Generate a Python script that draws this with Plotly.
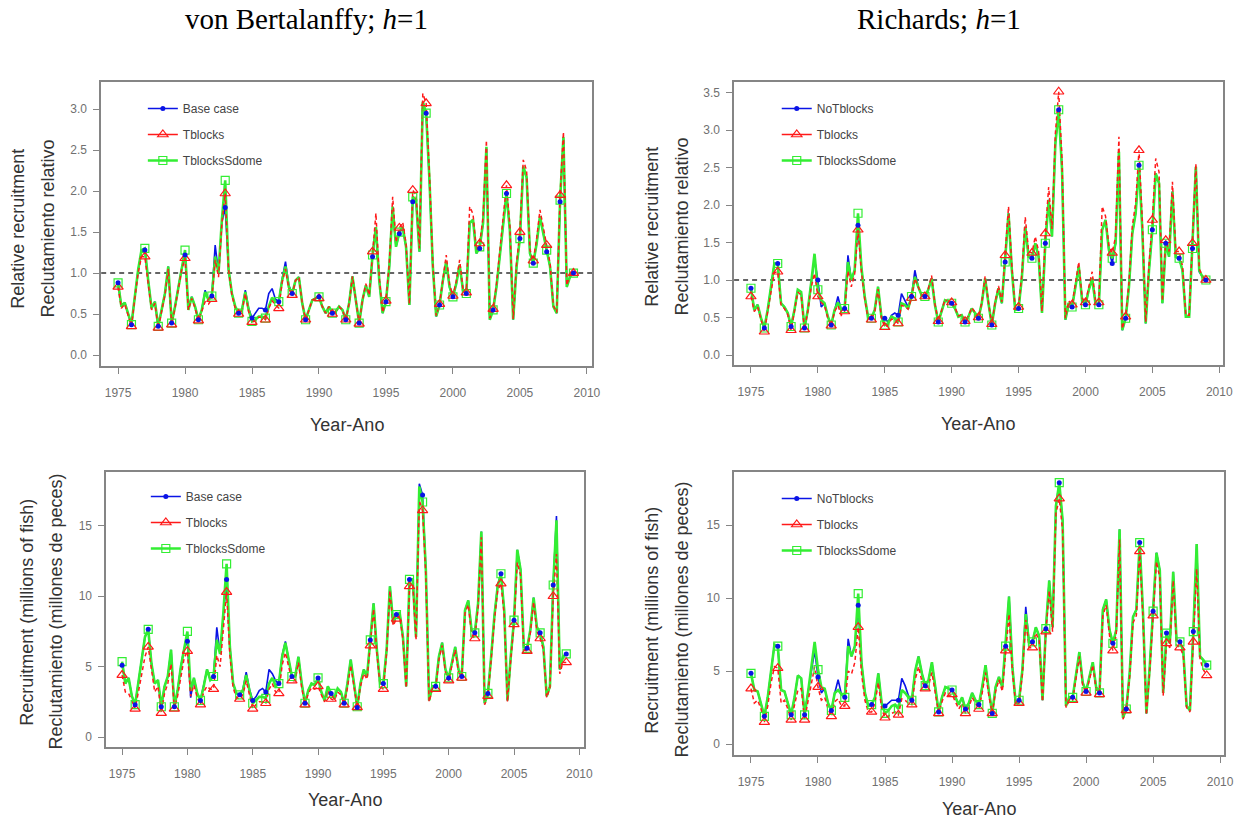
import numpy as np
import plotly.graph_objects as go

# Quarterly time axis, 1975.00 to 2009.00
years = np.round(np.arange(1975.0, 2009.01, 0.25), 2)

# ---------- von Bertalanffy, relative recruitment ----------
vb_rel_base = [
    0.88, 0.59, 0.64, 0.51,  0.37, 0.71, 1.04, 1.26,  1.28, 0.91, 0.57, 0.65,
    0.35, 0.55, 0.75, 1.08,  0.39, 0.59, 0.83, 1.06,  1.22, 0.57, 0.71, 0.59,
    0.43, 0.55, 0.79, 0.67,  0.72, 1.34, 1.00, 1.62,  1.80, 1.04, 0.75, 0.59,
    0.51, 0.55, 0.79, 0.57,  0.45, 0.51, 0.57, 0.57,  0.55, 0.75, 0.81, 0.68,
    0.65, 0.93, 1.14, 0.85,  0.75, 0.91, 0.95, 0.63,  0.43, 0.55, 0.67, 0.69,
    0.71, 0.59, 0.51, 0.59,  0.51, 0.53, 0.59, 0.55,  0.43, 0.63, 0.96, 0.67,
    0.39, 0.67, 0.85, 0.71,  1.20, 1.56, 0.91, 0.51,  0.65, 1.08, 1.79, 1.32,
    1.48, 1.56, 1.32, 0.61,  1.87, 1.87, 1.26, 3.07,  2.95, 2.11, 1.08, 0.47,
    0.61, 0.91, 1.14, 0.83,  0.71, 0.87, 1.10, 0.79,  0.75, 1.61, 1.65, 1.24,
    1.30, 1.61, 2.52, 0.43,  0.55, 0.83, 1.24, 1.61,  1.97, 1.52, 0.43, 1.08,
    1.42, 2.28, 2.17, 1.24,  1.12, 1.36, 1.69, 1.48,  1.26, 1.08, 0.59, 0.51,
    1.87, 2.64, 0.83, 0.96,  1.00,
]
vb_rel_tblocks = [
    0.83, 0.57, 0.62, 0.49,  0.35, 0.69, 1.00, 1.20,  1.20, 0.87, 0.55, 0.63,
    0.33, 0.53, 0.73, 1.05,  0.37, 0.57, 0.80, 1.04,  1.18, 0.55, 0.69, 0.57,
    0.42, 0.53, 0.65, 0.62,  0.68, 1.16, 0.95, 1.60,  1.97, 1.04, 0.73, 0.57,
    0.50, 0.53, 0.75, 0.53,  0.40, 0.42, 0.46, 0.46,  0.43, 0.57, 0.66, 0.62,
    0.57, 0.89, 1.05, 0.81,  0.73, 0.91, 0.95, 0.63,  0.43, 0.55, 0.67, 0.69,
    0.69, 0.59, 0.51, 0.59,  0.50, 0.53, 0.59, 0.55,  0.43, 0.63, 0.96, 0.67,
    0.38, 0.67, 0.87, 0.73,  1.26, 1.73, 0.95, 0.52,  0.66, 1.12, 1.93, 1.38,
    1.55, 1.62, 1.36, 0.62,  2.01, 1.95, 1.30, 3.19,  3.07, 2.20, 1.10, 0.48,
    0.62, 0.95, 1.22, 0.86,  0.72, 0.90, 1.16, 0.81,  0.76, 1.81, 1.72, 1.28,
    1.36, 1.68, 2.62, 0.45,  0.56, 0.86, 1.30, 1.68,  2.07, 1.58, 0.44, 1.12,
    1.50, 2.38, 2.25, 1.28,  1.15, 1.42, 1.77, 1.54,  1.34, 1.12, 0.60, 0.52,
    1.95, 2.72, 0.85, 0.98,  1.00,
]
vb_rel_sdome = [
    0.88, 0.59, 0.64, 0.51,  0.37, 0.71, 1.04, 1.28,  1.30, 0.91, 0.57, 0.65,
    0.35, 0.55, 0.75, 1.08,  0.39, 0.59, 0.83, 1.08,  1.28, 0.55, 0.71, 0.59,
    0.43, 0.55, 0.77, 0.67,  0.72, 1.20, 1.00, 1.65,  2.13, 1.04, 0.75, 0.59,
    0.51, 0.55, 0.77, 0.55,  0.41, 0.43, 0.47, 0.47,  0.45, 0.59, 0.70, 0.65,
    0.65, 0.91, 1.08, 0.83,  0.75, 0.91, 0.95, 0.63,  0.43, 0.55, 0.67, 0.69,
    0.71, 0.59, 0.51, 0.59,  0.51, 0.53, 0.59, 0.55,  0.43, 0.63, 0.96, 0.67,
    0.39, 0.67, 0.85, 0.71,  1.22, 1.56, 0.91, 0.51,  0.65, 1.08, 1.81, 1.32,
    1.50, 1.56, 1.32, 0.61,  1.93, 1.89, 1.26, 3.09,  2.95, 2.13, 1.08, 0.47,
    0.61, 0.91, 1.14, 0.83,  0.71, 0.87, 1.10, 0.79,  0.75, 1.61, 1.65, 1.24,
    1.32, 1.61, 2.54, 0.43,  0.55, 0.83, 1.24, 1.61,  1.97, 1.52, 0.43, 1.08,
    1.42, 2.30, 2.17, 1.24,  1.12, 1.36, 1.69, 1.48,  1.28, 1.08, 0.59, 0.51,
    1.89, 2.66, 0.83, 0.96,  1.00,
]

# ---------- Richards, relative recruitment ----------
rich_rel_base = [
    0.89, 0.60, 0.67, 0.49,  0.36, 0.60, 0.91, 1.22,  1.22, 0.69, 0.64, 0.56,
    0.38, 0.60, 0.87, 0.84,  0.36, 0.60, 0.96, 1.28,  1.00, 0.64, 0.69, 0.51,
    0.40, 0.60, 0.78, 0.60,  0.62, 1.33, 1.00, 1.13,  1.73, 1.18, 0.78, 0.51,
    0.49, 0.60, 0.91, 0.51,  0.49, 0.44, 0.53, 0.56,  0.53, 0.82, 0.73, 0.64,
    0.78, 1.13, 0.91, 0.80,  0.78, 0.87, 1.02, 0.67,  0.44, 0.60, 0.73, 0.71,
    0.69, 0.62, 0.51, 0.53,  0.44, 0.51, 0.62, 0.56,  0.49, 0.69, 1.02, 0.69,
    0.40, 0.69, 0.89, 0.69,  1.24, 1.89, 1.13, 0.60,  0.62, 1.04, 1.71, 1.31,
    1.29, 1.49, 1.31, 0.56,  1.49, 2.07, 1.58, 2.82,  3.27, 2.47, 0.47, 0.69,
    0.64, 0.91, 1.18, 0.73,  0.67, 0.87, 1.02, 0.69,  0.67, 1.67, 1.80, 1.40,
    1.22, 1.49, 2.71, 0.33,  0.49, 0.91, 1.62, 1.89,  2.53, 1.67, 0.42, 1.13,
    1.67, 2.42, 2.29, 0.69,  1.49, 1.31, 2.18, 1.31,  1.29, 1.13, 0.51, 0.51,
    1.42, 2.51, 1.11, 1.04,  1.00,
]
rich_rel_tblocks = [
    0.78, 0.58, 0.64, 0.47,  0.31, 0.58, 0.87, 1.10,  1.11, 0.66, 0.62, 0.54,
    0.33, 0.58, 0.84, 0.80,  0.34, 0.58, 0.90, 1.09,  0.78, 0.70, 0.66, 0.49,
    0.39, 0.58, 0.66, 0.53,  0.58, 1.12, 0.91, 1.08,  1.67, 1.12, 0.75, 0.49,
    0.47, 0.58, 0.88, 0.50,  0.37, 0.40, 0.48, 0.47,  0.42, 0.66, 0.65, 0.61,
    0.76, 1.02, 0.90, 0.80,  0.78, 0.88, 1.06, 0.68,  0.45, 0.61, 0.74, 0.72,
    0.70, 0.63, 0.52, 0.54,  0.45, 0.52, 0.63, 0.57,  0.50, 0.70, 1.05, 0.70,
    0.41, 0.71, 0.92, 0.71,  1.33, 1.98, 1.18, 0.62,  0.64, 1.09, 1.84, 1.38,
    1.36, 1.58, 1.38, 0.58,  1.62, 2.24, 1.68, 2.95,  3.51, 2.60, 0.49, 0.72,
    0.67, 0.96, 1.24, 0.76,  0.70, 0.91, 1.11, 0.72,  0.70, 1.98, 1.85, 1.46,
    1.36, 1.58, 2.91, 0.35,  0.51, 0.96, 1.72, 2.02,  2.73, 1.78, 0.44, 1.20,
    1.80, 2.62, 2.44, 0.72,  1.53, 1.38, 2.31, 1.38,  1.38, 1.19, 0.53, 0.53,
    1.49, 2.55, 1.15, 1.05,  1.00,
]
rich_rel_sdome = [
    0.89, 0.60, 0.67, 0.49,  0.36, 0.60, 0.91, 1.22,  1.22, 0.69, 0.64, 0.56,
    0.38, 0.60, 0.87, 0.84,  0.36, 0.60, 0.96, 1.35,  0.87, 0.73, 0.69, 0.51,
    0.40, 0.60, 0.70, 0.60,  0.62, 1.24, 1.00, 1.13,  1.89, 1.18, 0.78, 0.51,
    0.49, 0.60, 0.91, 0.51,  0.40, 0.42, 0.51, 0.49,  0.44, 0.69, 0.67, 0.62,
    0.78, 1.04, 0.91, 0.80,  0.78, 0.87, 1.02, 0.67,  0.44, 0.60, 0.73, 0.71,
    0.69, 0.62, 0.51, 0.53,  0.44, 0.51, 0.62, 0.56,  0.49, 0.69, 1.02, 0.69,
    0.40, 0.69, 0.89, 0.69,  1.24, 1.89, 1.13, 0.60,  0.62, 1.04, 1.71, 1.31,
    1.29, 1.49, 1.31, 0.56,  1.49, 2.07, 1.58, 2.82,  3.27, 2.47, 0.47, 0.69,
    0.64, 0.91, 1.18, 0.73,  0.67, 0.87, 1.02, 0.69,  0.67, 1.67, 1.80, 1.40,
    1.29, 1.49, 2.71, 0.33,  0.49, 0.91, 1.62, 1.89,  2.53, 1.67, 0.42, 1.13,
    1.67, 2.42, 2.29, 0.69,  1.49, 1.31, 2.18, 1.31,  1.29, 1.13, 0.51, 0.51,
    1.42, 2.51, 1.13, 1.04,  1.00,
]

# ---------- von Bertalanffy, recruitment (millions of fish) ----------
vb_abs_base = [
    5.1, 3.8, 4.2, 2.9,   2.3, 3.8, 5.5, 7.1,   7.65, 5.2, 3.8, 4.05,
    2.15, 3.6, 4.3, 6.2,  2.15, 3.3, 5.0, 6.3,  6.8, 2.8, 4.2, 3.1,
    2.6, 3.6, 4.8, 4.05,  4.3, 7.8, 5.9, 8.6,   11.2, 6.4, 3.8, 3.1,
    3.0, 3.4, 4.6, 3.4,   2.6, 2.85, 3.3, 3.45, 3.2, 4.8, 4.5, 4.0,
    3.8, 5.8, 6.8, 5.5,   4.3, 4.3, 5.7, 3.8,   2.4, 3.3, 3.8, 3.7,
    4.2, 3.2, 2.6, 3.6,   3.1, 2.75, 3.45, 3.2, 2.4, 3.8, 5.5, 3.8,
    2.1, 3.8, 4.8, 4.3,   6.9, 9.5, 6.2, 3.8,   3.8, 6.2, 10.7, 8.1,
    8.7, 8.8, 7.1, 3.6,   11.2, 11.2, 7.1, 18.0, 17.2, 11.9, 2.6, 3.6,
    3.6, 5.7, 6.7, 4.8,   4.2, 5.2, 6.4, 4.8,   4.3, 9.0, 9.7, 7.6,
    7.4, 9.5, 14.6, 2.4,  3.1, 5.7, 8.6, 10.8,  11.6, 9.0, 2.6, 5.7,
    8.3, 13.3, 11.9, 6.4, 6.3, 7.6, 9.9, 7.8,   7.4, 6.4, 2.9, 3.6,
    10.8, 15.7, 4.8, 5.7, 5.9,
]
vb_abs_tblocks = [
    4.4, 3.2, 3.1, 2.6,   2.0, 3.2, 4.4, 5.7,   6.4, 4.7, 3.2, 3.6,
    1.7, 3.1, 3.8, 5.2,   2.0, 2.9, 4.3, 5.6,   6.1, 2.9, 3.7, 2.8,
    2.3, 3.2, 3.6, 3.4,   3.4, 5.8, 5.0, 7.6,   10.3, 5.8, 3.5, 2.8,
    2.7, 3.0, 4.0, 3.0,   2.0, 2.3, 2.5, 2.5,   2.4, 3.4, 3.8, 3.2,
    3.1, 5.1, 6.0, 5.0,   4.0, 4.0, 5.3, 3.5,   2.3, 3.1, 3.5, 3.4,
    3.6, 3.0, 2.5, 3.3,   2.7, 2.6, 3.2, 3.0,   2.3, 3.5, 5.1, 3.6,
    2.1, 3.6, 4.5, 4.1,   6.5, 9.1, 6.0, 3.6,   3.4, 6.0, 10.4, 7.9,
    8.4, 8.6, 6.9, 3.5,   10.7, 10.9, 6.9, 16.8, 16.1, 11.5, 2.5, 3.4,
    3.4, 5.5, 6.5, 4.6,   4.0, 5.0, 6.2, 4.6,   4.2, 8.8, 9.4, 7.3,
    7.0, 9.2, 14.2, 2.3,  2.9, 5.5, 8.3, 10.4,  10.9, 8.7, 2.5, 5.5,
    8.0, 12.4, 11.5, 6.2, 6.1, 7.4, 9.6, 7.5,   7.0, 6.2, 2.8, 3.5,
    10.0, 13.0, 4.5, 5.3, 5.3,
]
vb_abs_sdome = [
    5.36, 3.8, 4.2, 2.9,  2.3, 3.8, 5.5, 7.1,   7.65, 5.2, 3.8, 4.05,
    2.15, 3.6, 4.3, 6.2,  2.15, 3.3, 5.0, 6.4,  7.5, 3.3, 4.2, 3.1,
    2.6, 3.6, 4.8, 4.05,  4.3, 6.9, 5.9, 8.8,   12.3, 6.4, 3.8, 3.1,
    3.0, 3.3, 4.4, 3.3,   2.4, 2.6, 2.85, 2.85, 2.75, 3.8, 4.2, 3.6,
    3.8, 5.7, 6.7, 5.5,   4.3, 4.3, 5.7, 3.8,   2.4, 3.3, 3.8, 3.7,
    4.2, 3.2, 2.6, 3.6,   3.1, 2.75, 3.45, 3.2, 2.4, 3.8, 5.5, 3.8,
    2.15, 3.8, 4.8, 4.3,  6.9, 9.5, 6.2, 3.8,   3.8, 6.2, 10.7, 8.1,
    8.7, 8.8, 7.1, 3.6,   11.2, 11.2, 7.1, 17.8, 16.7, 11.9, 2.6, 3.6,
    3.6, 5.7, 6.7, 4.8,   4.2, 5.2, 6.4, 4.8,   4.3, 9.0, 9.7, 7.6,
    7.4, 9.5, 14.6, 2.4,  3.1, 5.7, 8.6, 10.7,  11.6, 9.0, 2.6, 5.7,
    8.3, 13.3, 11.9, 6.4, 6.3, 7.6, 9.9, 7.8,   7.4, 6.4, 2.9, 3.6,
    10.8, 15.4, 4.8, 5.7, 5.9,
]

# ---------- Richards, recruitment (millions of fish) ----------
rich_abs_base = [
    4.84, 3.7, 3.6, 2.8,  1.9, 3.2, 5.1, 6.8,   6.7, 3.7, 3.6, 2.8,
    2.0, 3.2, 4.7, 4.5,   2.0, 3.5, 5.1, 6.4,   4.6, 3.5, 3.8, 2.8,
    2.3, 3.5, 4.4, 3.4,   3.2, 7.2, 6.0, 6.7,   9.5, 5.5, 3.5, 2.6,
    2.7, 3.2, 4.84, 2.8,  2.6, 2.8, 3.0, 3.0,   3.0, 4.5, 4.0, 3.3,
    3.0, 5.0, 6.0, 4.84,  4.0, 4.4, 5.6, 3.9,   2.2, 3.2, 3.9, 3.8,
    3.7, 3.2, 2.7, 3.2,   2.4, 2.8, 3.5, 3.0,   2.7, 3.9, 5.4, 3.6,
    2.1, 3.9, 4.6, 3.9,   6.7, 10.1, 5.3, 2.8,  3.0, 5.1, 9.4, 6.9,
    7.0, 8.0, 7.4, 3.0,   7.9, 11.2, 8.0, 16.3, 17.9, 15.3, 2.6, 3.2,
    3.2, 4.6, 6.3, 4.2,   3.6, 4.6, 5.6, 3.9,   3.5, 9.2, 9.9, 7.8,
    6.9, 7.8, 14.7, 1.8,  2.4, 4.84, 8.7, 9.2,  13.8, 8.9, 2.1, 5.3,
    9.1, 13.1, 11.9, 3.5, 7.6, 6.9, 11.8, 7.1,  7.0, 6.4, 2.6, 2.3,
    7.7, 13.7, 6.0, 5.75, 5.4,
]
rich_abs_tblocks = [
    3.8, 2.8, 3.0, 2.4,   1.5, 2.6, 4.2, 5.3,   5.2, 2.8, 3.0, 2.4,
    1.65, 2.6, 3.7, 3.8,  1.65, 2.9, 4.2, 5.3,  3.9, 3.0, 3.2, 2.4,
    1.9, 2.9, 3.1, 2.6,   2.6, 5.0, 4.8, 5.6,   8.0, 4.8, 3.0, 2.2,
    2.2, 2.8, 4.2, 2.4,   1.8, 1.9, 2.1, 2.2,   2.0, 3.1, 3.0, 2.8,
    2.7, 4.4, 5.3, 4.3,   3.8, 4.0, 4.9, 3.5,   2.1, 2.9, 3.5, 3.3,
    3.4, 2.9, 2.4, 2.8,   2.1, 2.5, 3.2, 2.8,   2.4, 3.5, 4.9, 3.3,
    2.1, 3.6, 4.4, 3.6,   6.4, 8.9, 5.0, 2.7,   2.8, 4.8, 8.5, 6.6,
    6.6, 7.6, 7.1, 2.9,   7.7, 10.5, 7.7, 15.8, 16.8, 14.6, 2.5, 3.0,
    3.0, 4.4, 6.0, 4.0,   3.5, 4.4, 5.4, 3.7,   3.4, 8.8, 9.5, 7.4,
    6.4, 7.5, 14.0, 1.7,  2.3, 4.6, 8.3, 8.8,   13.2, 8.5, 2.0, 5.0,
    8.8, 12.5, 11.4, 3.3, 6.9, 6.6, 11.2, 6.8,  6.6, 6.1, 2.5, 2.2,
    7.0, 12.0, 5.8, 5.1,  4.7,
]
rich_abs_sdome = [
    4.84, 3.7, 3.6, 2.8,  1.9, 3.2, 5.1, 6.8,   6.7, 3.7, 3.6, 2.8,
    2.0, 3.2, 4.7, 4.5,   2.0, 3.5, 5.1, 7.0,   5.1, 3.9, 3.8, 2.8,
    2.3, 3.5, 3.7, 3.4,   3.2, 6.7, 6.0, 6.7,   10.3, 5.5, 3.5, 2.6,
    2.7, 3.2, 4.84, 2.8,  2.1, 2.3, 2.6, 2.7,   2.4, 3.7, 3.5, 3.2,
    3.0, 5.0, 6.0, 4.84,  4.0, 4.4, 5.6, 3.9,   2.2, 3.2, 3.9, 3.8,
    3.7, 3.2, 2.7, 3.2,   2.4, 2.8, 3.5, 3.0,   2.7, 3.9, 5.4, 3.6,
    2.1, 3.9, 4.6, 3.9,   6.7, 10.1, 5.3, 2.8,  3.0, 5.1, 8.9, 6.9,
    7.0, 8.0, 7.4, 3.0,   7.9, 11.2, 8.0, 16.3, 17.9, 15.3, 2.6, 3.2,
    3.2, 4.6, 6.3, 4.2,   3.6, 4.6, 5.6, 3.9,   3.5, 9.2, 9.9, 7.8,
    6.9, 7.8, 14.7, 1.8,  2.4, 4.84, 8.7, 9.2,  13.8, 8.9, 2.1, 5.3,
    9.1, 13.1, 11.9, 3.5, 7.6, 6.9, 11.8, 7.1,  7.0, 6.4, 2.6, 2.3,
    7.7, 13.7, 6.0, 5.75, 5.4,
]

titles = ["von Bertalanffy; <i>h</i>=1", "Richards; <i>h</i>=1"]
x_title = "Year-Ano"
y_titles_rel = ["Relative recruitment", "Reclutamiento relativo"]
y_titles_abs = ["Recruitment (millions of fish)", "Reclutamiento (millones de peces)"]
year_ticks = [1975, 1980, 1985, 1990, 1995, 2000, 2005, 2010]

panels = [
    # (axis suffix, legend id, series names, series data)
    ("", "legend", ["Base case", "Tblocks", "TblocksSdome"],
     [vb_rel_base, vb_rel_tblocks, vb_rel_sdome]),
    ("2", "legend2", ["NoTblocks", "Tblocks", "TblocksSdome"],
     [rich_rel_base, rich_rel_tblocks, rich_rel_sdome]),
    ("3", "legend3", ["Base case", "Tblocks", "TblocksSdome"],
     [vb_abs_base, vb_abs_tblocks, vb_abs_sdome]),
    ("4", "legend4", ["NoTblocks", "Tblocks", "TblocksSdome"],
     [rich_abs_base, rich_abs_tblocks, rich_abs_sdome]),
]

W, H = 1252, 820
def px(x):
    return x / W
def py(y):
    return 1 - y / H

BLUE = "#0a14e6"
RED = "#ff1a1a"
GREEN = "#33ee33"
SANS = "Liberation Sans, Arial, sans-serif"
SERIF = "Liberation Serif, Times New Roman, serif"

line_style = [
    dict(color=BLUE, width=1.6),
    dict(color=RED, width=1.5, dash="4px,3px"),
    dict(color=GREEN, width=2.6),
]
marker_style = [
    dict(symbol="circle", size=5, color=BLUE),
    dict(symbol="triangle-up-open", size=9, color=RED, line=dict(width=1.2, color=RED)),
    dict(symbol="square-open", size=8, color=GREEN, line=dict(width=1.2, color=GREEN)),
]

fig = go.Figure()
annual = slice(0, None, 4)

for suffix, leg, names, data in panels:
    xa, ya = "x" + suffix, "y" + suffix
    # lines: base, then Sdome, then dashed Tblocks on top
    for k in (0, 2, 1):
        fig.add_trace(go.Scatter(x=years, y=data[k], mode="lines", line=line_style[k],
                                 xaxis=xa, yaxis=ya, showlegend=False, hoverinfo="skip"))
    # yearly markers
    for k in (2, 1, 0):
        fig.add_trace(go.Scatter(x=years[annual], y=data[k][annual], mode="markers",
                                 marker=marker_style[k], xaxis=xa, yaxis=ya,
                                 showlegend=False, hoverinfo="skip"))
    # legend entries
    for k in range(3):
        ls = dict(line_style[k])
        ls.pop("dash", None)
        fig.add_trace(go.Scatter(x=[None], y=[None], mode="lines+markers", name=names[k],
                                 line=ls, marker=marker_style[k], xaxis=xa, yaxis=ya,
                                 legend=leg, legendgroup=leg + str(k), showlegend=True))

# panel geometry in pixels: (left, right, top, bottom, xrange, yrange)
geom = {
    "": (102, 597, 82, 366, [1973.74, 2010.4], [-0.134, 3.33]),
    "2": (740, 1233, 82, 365, [1973.74, 2010.29], [-0.133, 3.64]),
    "3": (107, 589, 472, 747, [1973.78, 2010.38], [-0.71, 18.83]),
    "4": (740, 1234, 472, 755, [1973.74, 2010.3], [-0.75, 18.63]),
}
ytick_sets = {
    "": ([0, 0.5, 1.0, 1.5, 2.0, 2.5, 3.0], ".1f"),
    "2": ([0, 0.5, 1.0, 1.5, 2.0, 2.5, 3.0, 3.5], ".1f"),
    "3": ([0, 5, 10, 15], "d"),
    "4": ([0, 5, 10, 15], "d"),
}

axis_common = dict(showline=True, mirror=True, linecolor="#858585", linewidth=1.5,
                   ticks="outside", ticklen=6, tickwidth=1.2, tickcolor="#858585",
                   showgrid=False, zeroline=False,
                   tickfont=dict(family=SANS, size=12, color="#707070"))
layout_axes = {}
for suffix, (l, r, t, b, xr, yr) in geom.items():
    layout_axes["xaxis" + suffix] = dict(axis_common, domain=[px(l), px(r)], range=xr,
                                         tickvals=year_ticks, anchor="y" + suffix,
                                         ticklabelstandoff=9)
    vals, fmt = ytick_sets[suffix]
    layout_axes["yaxis" + suffix] = dict(axis_common, domain=[py(b), py(t)], range=yr,
                                         tickvals=vals, tickformat=fmt, anchor="x" + suffix,
                                         ticklabelstandoff=4)

fig.update_layout(**layout_axes)

# dashed reference line at 1 on the relative panels
for suffix in ("", "2"):
    fig.add_shape(type="line", xref=("x" + suffix) + " domain", yref="y" + suffix,
                  x0=0, x1=1, y0=1, y1=1, layer="below",
                  line=dict(color="#333333", width=1.5, dash="5px,4px"))


def label(text, x, y, size, family, color, angle=0):
    return dict(text=text, x=px(x), y=py(y), xref="paper", yref="paper",
                xanchor="center", yanchor="middle", textangle=angle, showarrow=False,
                font=dict(family=family, size=size, color=color))


ann = [label(titles[0], 309, 19, 29, SERIF, "black"),
       label(titles[1], 947, 19, 29, SERIF, "black")]
# x titles
for xc, yc in [(350, 425), (986, 424), (348, 800), (987, 809)]:
    ann.append(label(x_title, xc, yc, 18, SANS, "#333333"))
# y titles (two lines each)
for (x1, x2, yc, labels) in [(18, 48, 229, y_titles_rel), (657, 687, 227, y_titles_rel),
                             (27, 56, 612, y_titles_abs), (657, 687, 620, y_titles_abs)]:
    for xx, lab in zip((x1, x2), labels):
        ann.append(label(lab, xx, yc, 18, SANS, "#333333", angle=-90))

legend_common = dict(bgcolor="rgba(0,0,0,0)", borderwidth=0, traceorder="grouped",
                     tracegroupgap=7, xanchor="left", yanchor="top",
                     font=dict(family=SANS, size=12, color="#444444"))
fig.update_layout(
    legend=dict(legend_common, x=px(144), y=py(94)),
    legend2=dict(legend_common, x=px(783), y=py(94)),
    legend3=dict(legend_common, x=px(147), y=py(482)),
    legend4=dict(legend_common, x=px(783), y=py(484)),
)

fig.update_layout(width=W, height=H, margin=dict(l=0, r=0, t=0, b=0),
                  paper_bgcolor="white", plot_bgcolor="white",
                  annotations=ann, showlegend=True)

fig.write_html("out.html")
